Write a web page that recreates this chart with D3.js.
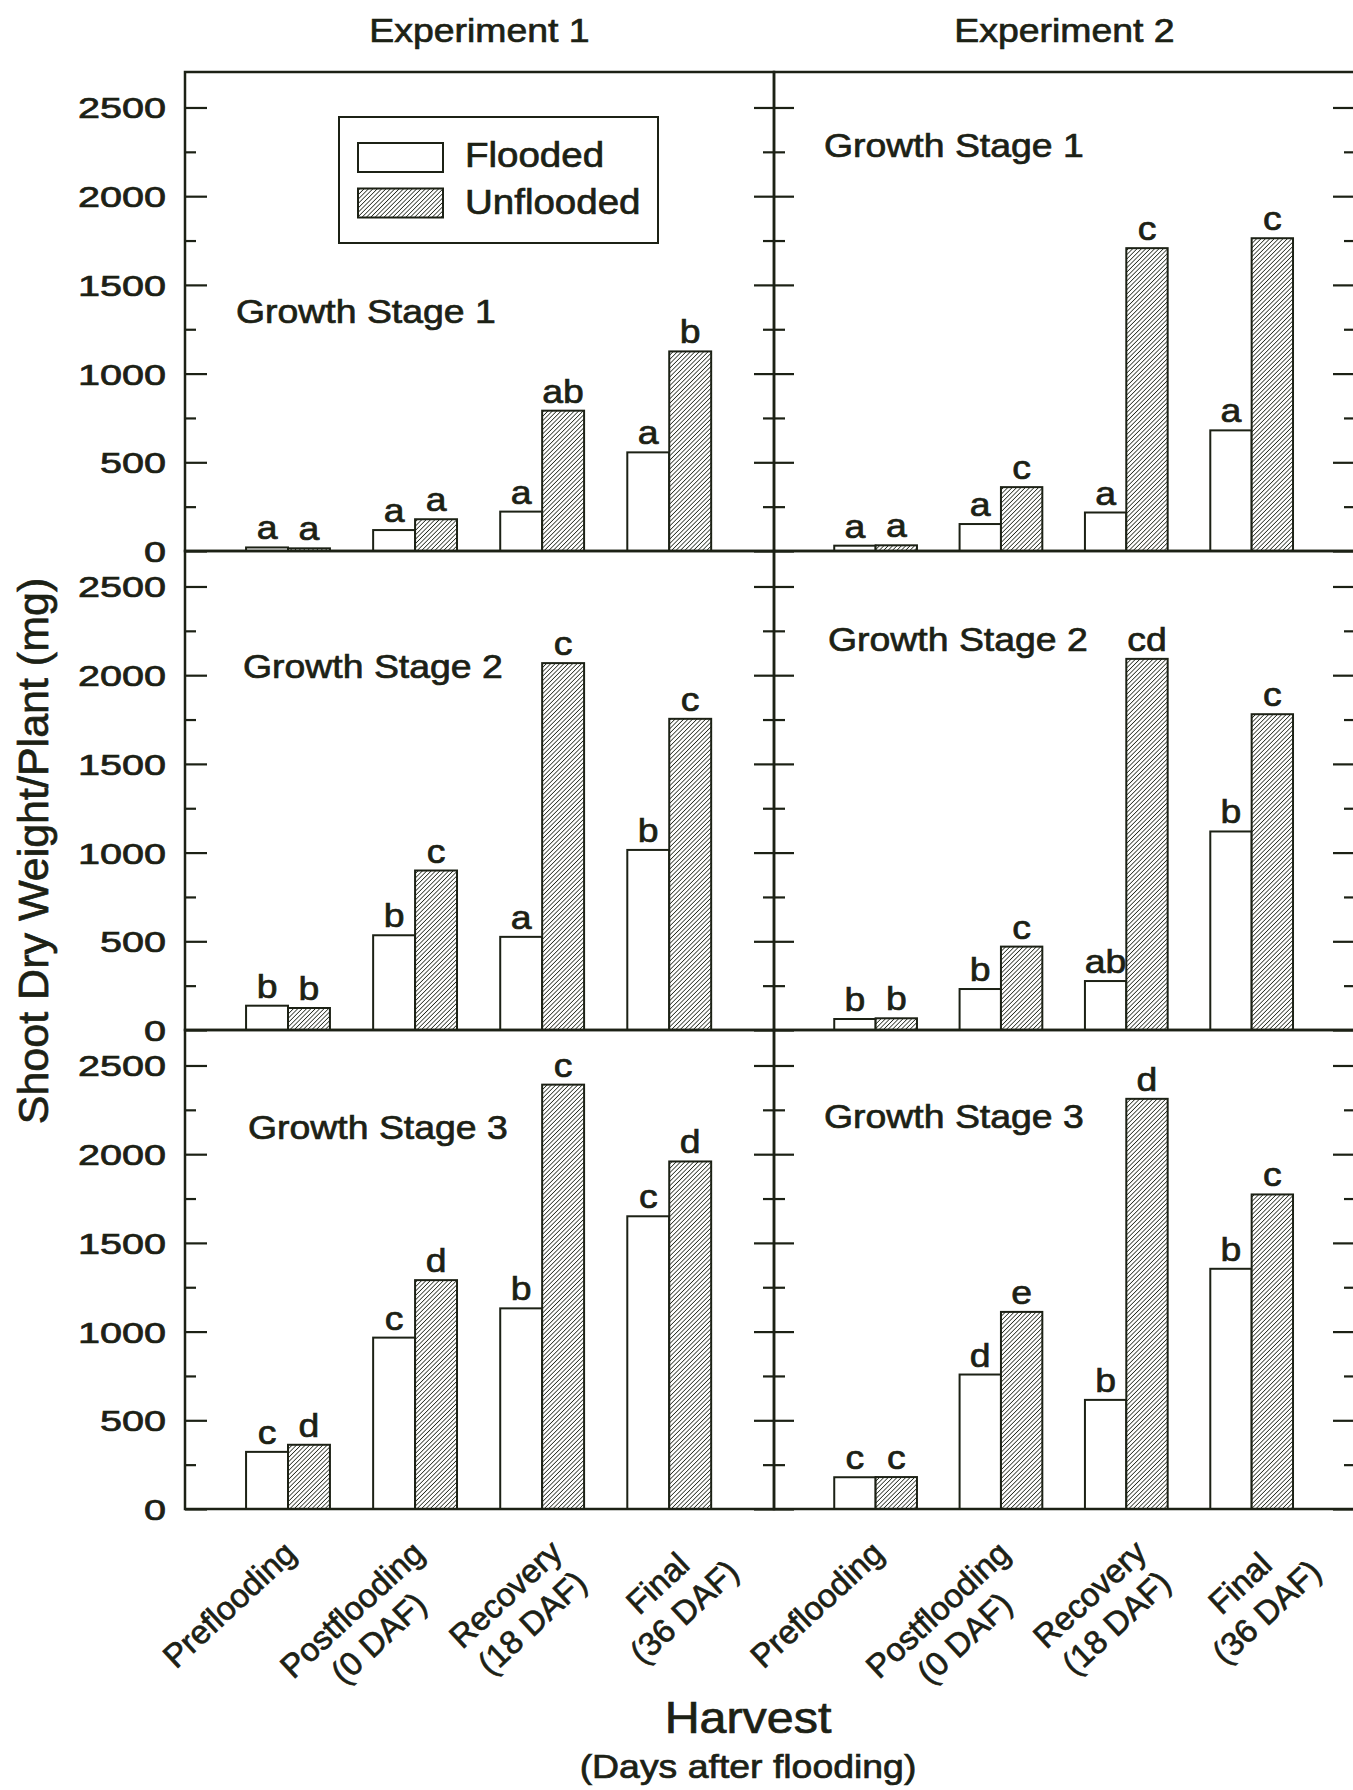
<!DOCTYPE html>
<html>
<head>
<meta charset="utf-8">
<script src="https://cdn.jsdelivr.net/npm/d3@7"></script>
<style>
  html, body { margin: 0; padding: 0; background: #fff; }
  svg { display: block; }
  text { font-family: "Liberation Sans", Arial, sans-serif; fill: #1c2115; stroke: #1c2115; stroke-width: 0.7px; }
</style>
</head>
<body>
<svg id="chart" width="1353" height="1790"></svg>
<script>
// categories
const harvests = ["Preflooding", "Postflooding", "Recovery", "Final"];
const harvestLabels = [["Preflooding"], ["Postflooding", "(0 DAF)"], ["Recovery", "(18 DAF)"], ["Final", "(36 DAF)"]];
const treatments = ["Flooded", "Unflooded"];
const experiments = ["Experiment 1", "Experiment 2"];
const stages = ["Growth Stage 1", "Growth Stage 2", "Growth Stage 3"];
const yTicks = [0, 500, 1000, 1500, 2000, 2500];
const yMinorTicks = [250, 750, 1250, 1750, 2250];

// shoot dry weight (mg), experiment x growth stage
const e1g1Flooded = [20, 118, 222, 556];
const e1g1Unflooded = [15, 179, 791, 1125];
const e1g1Letters = [["a", "a"], ["a", "a"], ["a", "ab"], ["a", "b"]];

const e2g1Flooded = [30, 152, 217, 680];
const e2g1Unflooded = [32, 360, 1707, 1763];
const e2g1Letters = [["a", "a"], ["a", "c"], ["a", "c"], ["a", "c"]];

const e1g2Flooded = [137, 534, 525, 1015];
const e1g2Unflooded = [124, 899, 2068, 1754];
const e1g2Letters = [["b", "b"], ["b", "c"], ["a", "c"], ["b", "c"]];

const e2g2Flooded = [62, 231, 276, 1119];
const e2g2Unflooded = [66, 470, 2092, 1780];
const e2g2Letters = [["b", "b"], ["b", "c"], ["ab", "cd"], ["b", "c"]];

const e1g3Flooded = [322, 966, 1131, 1650];
const e1g3Unflooded = [362, 1290, 2392, 1959];
const e1g3Letters = [["c", "d"], ["c", "d"], ["b", "c"], ["c", "d"]];

const e2g3Flooded = [179, 758, 615, 1354];
const e2g3Unflooded = [180, 1111, 2312, 1773];
const e2g3Letters = [["c", "c"], ["d", "e"], ["b", "d"], ["b", "c"]];

// panels[row][col]
const panels = [
  [[e1g1Flooded, e1g1Unflooded, e1g1Letters], [e2g1Flooded, e2g1Unflooded, e2g1Letters]],
  [[e1g2Flooded, e1g2Unflooded, e1g2Letters], [e2g2Flooded, e2g2Unflooded, e2g2Letters]],
  [[e1g3Flooded, e1g3Unflooded, e1g3Letters], [e2g3Flooded, e2g3Unflooded, e2g3Letters]]
];

// layout
const ink = "#1c2115";
const SX = 1.1;            // the scan is a bit wider than tall
const plotTop = 72, rowH = 479;
const colX = [185, 774], colW = [589, 581];
// stage label spot, offset from panel top-left
const stagePos = [[[51, 251], [50, 85]], [[58, 127], [54, 100]], [[63, 109], [50, 98]]];
// extra shift for the slanted harvest labels
const xLabelNudge = [[5, 14], [6, 14], [17, 13], [40, 4]];

const svg = d3.select("#chart");
const defs = svg.append("defs");
const pat = defs.append("pattern")
  .attr("id", "hatch")
  .attr("patternUnits", "userSpaceOnUse")
  .attr("width", 3.1).attr("height", 3.1)
  .attr("patternTransform", "rotate(45)");
pat.append("rect").attr("width", 3.1).attr("height", 3.1).attr("fill", "#fff");
pat.append("line").attr("x1", 0).attr("y1", 0).attr("x2", 0).attr("y2", 3.1)
  .attr("stroke", ink).attr("stroke-width", 1.5);

function stext(sel, x, y, str, size, anchor = "middle", sx = SX) {
  return sel.append("text")
    .attr("transform", `translate(${x},${y}) scale(${sx},1)`)
    .attr("text-anchor", anchor)
    .attr("font-size", size)
    .text(str);
}

const y = d3.scaleLinear().domain([0, 2700]).range([rowH, 0]);

panels.forEach((row, r) => {
  row.forEach(([flooded, unflooded, letters], c) => {
    const w = colW[c];
    const g = svg.append("g").attr("transform", `translate(${colX[c]},${plotTop + r * rowH})`);

    const x0 = d3.scaleBand().domain(harvests)
      .range([w * 0.067, w * 0.93]).paddingInner(0.34).paddingOuter(0.17);
    const x1 = d3.scaleBand().domain(treatments).range([0, x0.bandwidth()]);

    const bars = harvests.flatMap((h, i) => [
      { h, t: "Flooded", v: flooded[i], lab: letters[i][0] },
      { h, t: "Unflooded", v: unflooded[i], lab: letters[i][1] }
    ]);

    g.selectAll("rect.bar").data(bars).join("rect")
      .attr("class", "bar")
      .attr("x", d => x0(d.h) + x1(d.t))
      .attr("y", d => y(d.v))
      .attr("width", x1.bandwidth())
      .attr("height", d => y(0) - y(d.v))
      .attr("fill", d => d.t === "Flooded" ? "#fff" : "url(#hatch)")
      .attr("stroke", ink).attr("stroke-width", 2);

    bars.forEach(d => {
      stext(g, x0(d.h) + x1(d.t) + x1.bandwidth() / 2, y(d.v) - 8, d.lab, 34, "middle", 1.1);
    });

    // frame
    g.append("rect").attr("width", w).attr("height", rowH)
      .attr("fill", "none").attr("stroke", ink).attr("stroke-width", 2.5);

    // inward ticks
    const addTicks = (axisFn, xPos, size, vals) => {
      const a = g.append("g").attr("transform", `translate(${xPos},0)`)
        .call(axisFn(y).tickValues(vals).tickSize(size).tickFormat(""));
      a.select(".domain").remove();
      a.selectAll("line").attr("stroke", ink).attr("stroke-width", 2.2);
    };
    if (c === 0) {
      addTicks(d3.axisRight, 0, 22, yTicks);
      addTicks(d3.axisRight, 0, 11, yMinorTicks);
      addTicks(d3.axisLeft, w, 20, yTicks);
      addTicks(d3.axisLeft, w, 11, yMinorTicks);
      yTicks.forEach(t => stext(g, -19, y(t) + 11, String(t), 30, "end", 1.32));
    } else {
      addTicks(d3.axisRight, 0, 20, yTicks);
      addTicks(d3.axisRight, 0, 11, yMinorTicks);
      addTicks(d3.axisLeft, w, 22, yTicks);
      addTicks(d3.axisLeft, w, 11, yMinorTicks);
    }

    const [sx, sy] = stagePos[r][c];
    stext(g, sx, sy, stages[r], 34, "start");

    // category labels under the bottom row
    if (r === panels.length - 1) {
      harvests.forEach((h, i) => {
        const [nx, ny] = xLabelNudge[i];
        const lg = g.append("g")
          .attr("transform", `translate(${x0(h) + x0.bandwidth() / 2 + 5 + nx},${rowH + 33 + ny}) rotate(-43)`);
        const lines = harvestLabels[i];
        const ts = lines.map((s, k) => lg.append("text")
          .attr("font-size", 33).attr("text-anchor", "middle")
          .attr("y", k * 39).text(s));
        const W = d3.max(ts, t => t.node().getComputedTextLength());
        ts.forEach(t => t.attr("x", -W / 2));
      });
    }
  });
});

// legend
const leg = svg.append("g");
leg.append("rect").attr("x", 339).attr("y", 117).attr("width", 319).attr("height", 126)
  .attr("fill", "#fff").attr("stroke", ink).attr("stroke-width", 2);
treatments.forEach((t, i) => {
  leg.append("rect").attr("x", 358).attr("y", 143 + i * 45.5).attr("width", 85).attr("height", 29)
    .attr("fill", i === 0 ? "#fff" : "url(#hatch)").attr("stroke", ink).attr("stroke-width", 2);
  stext(leg, 465, 167 + i * 47, t, 35, "start");
});

// titles
experiments.forEach((e, c) => stext(svg, colX[c] + colW[c] / 2, 42, e, 34));
svg.append("text")
  .attr("transform", "translate(48,851) rotate(-90)")
  .attr("text-anchor", "middle").attr("font-size", 43)
  .text("Shoot Dry Weight/Plant (mg)");
stext(svg, 748, 1733, "Harvest", 44);
stext(svg, 748, 1778, "(Days after flooding)", 34);
</script>
</body>
</html>
